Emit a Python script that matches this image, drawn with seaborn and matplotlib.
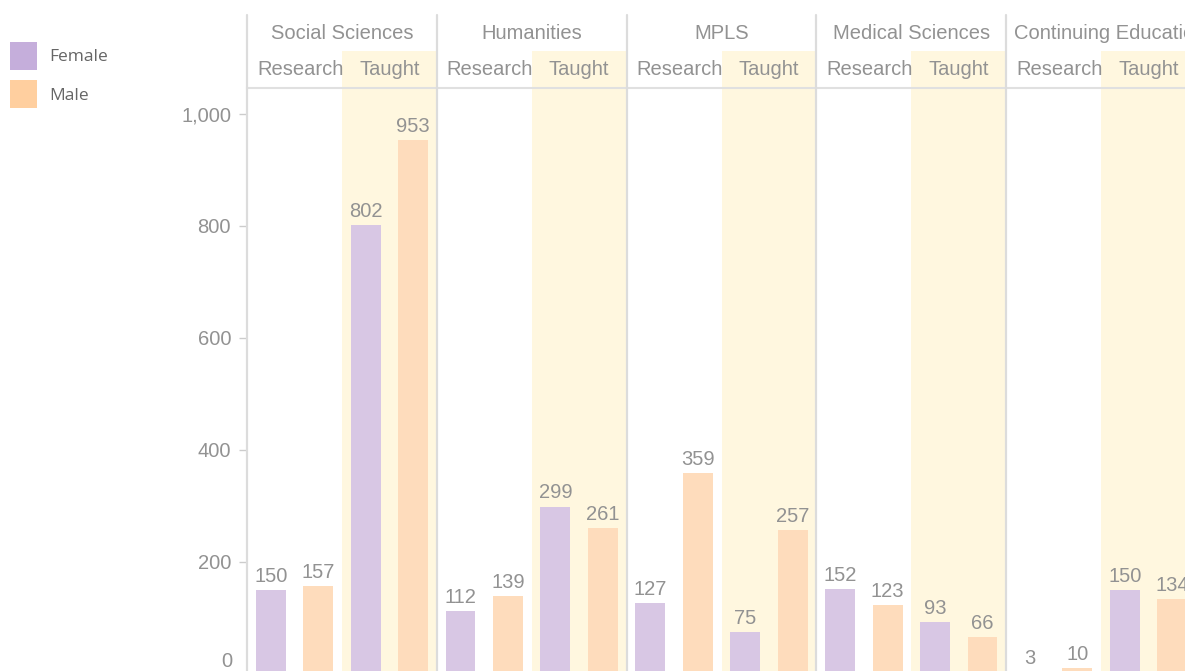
import pandas as pd
import matplotlib.pyplot as plt
import seaborn as sns
from matplotlib.patches import Patch


# данные
faculties = ["Social Sciences", "Humanities", "MPLS", "Medical Sciences", "Continuing Education"]
levels = ["Research", "Taught"]
genders = ["Female", "Male"]
female = [150, 802, 112, 299, 127, 75, 152, 93, 3, 150]
male = [157, 953, 139, 261, 359, 257, 123, 66, 10, 134]
y_ticks = [200, 400, 600, 800, 1000]

groups = [f"{f}|{lv}" for f in faculties for lv in levels]
df = pd.DataFrame({
    "group": groups * 2,
    "gender": ["Female"] * len(groups) + ["Male"] * len(groups),
    "count": female + male,
})

BAR_COLORS = ["#d8c7e4", "#fedcbc"]
LEGEND_COLORS = ["#c5aedb", "#ffcf9f"]
SHADE = "#fff7df"
SEP = "#dcdcdc"
TXT = "#929292"

sns.set_style("white")
plt.rcParams["font.family"] = ["Liberation Sans", "DejaVu Sans"]

W, H = 1185, 671
fig = plt.figure(figsize=(W / 100, H / 100), dpi=100)
ax = fig.add_axes([247 / W, 0, 938 / W, 583 / H])

# подсветка Taught
for i, g in enumerate(groups):
    if g.endswith("Taught"):
        ax.axvspan(i - 0.5, i + 0.5, ymin=0, ymax=1.0635, color=SHADE,
                   lw=0, zorder=0, clip_on=False)

sns.barplot(data=df, x="group", y="count", hue="gender", order=groups,
            hue_order=genders, palette=BAR_COLORS, saturation=1,
            width=1.0, gap=0.37, errorbar=None, legend=False, ax=ax,
            linewidth=0, zorder=2)

for cont in ax.containers:
    ax.bar_label(cont, padding=3, fontsize=14.5, color=TXT,
                 annotation_clip=False)

ax.set_xlim(-0.5, -0.5 + 938 / 94.9)
ax.set_ylim(5.4, 1046)
ax.set_yticks(y_ticks)
ax.set_yticklabels([f"{v:,}" for v in y_ticks])
ax.tick_params(axis="y", length=6, width=1, color="#cccccc", pad=5.5,
               labelsize=14.5, labelcolor=TXT, left=True)
ax.set_xticks([])
ax.set_xlabel("")
ax.set_ylabel("")
# подпись нуля (сама отметка ниже края)
ax.text(-15 / 938, 0.017, "0", transform=ax.transAxes, ha="right",
        va="center", fontsize=14.5, color=TXT)

for s in ["left", "right", "bottom"]:
    ax.spines[s].set_visible(False)
ax.spines["top"].set_color("#e0e0e0")
ax.spines["top"].set_linewidth(1.5)

# шапка
tr = ax.get_xaxis_transform()
for k in range(len(faculties)):
    ax.plot([2 * k - 0.5, 2 * k - 0.5], [0, 1.125], transform=tr, color=SEP,
            lw=1.6, clip_on=False, zorder=3)
for k, f in enumerate(faculties):
    if len(f) > 16:
        ax.text(2 * k - 0.5 + 0.085, 1.094, f, transform=tr, ha="left",
                va="center", fontsize=14.5, color=TXT)
    else:
        ax.text(2 * k + 0.5, 1.094, f, transform=tr, ha="center",
                va="center", fontsize=14.5, color=TXT)
for i, g in enumerate(groups):
    lv = g.split("|")[1]
    if lv == "Research":
        ax.text(i - 0.5 + 0.105, 1.032, lv, transform=tr, ha="left",
                va="center", fontsize=14.5, color=TXT)
    else:
        ax.text(i, 1.032, lv, transform=tr, ha="center",
                va="center", fontsize=14.5, color=TXT)

handles = [Patch(facecolor=c, edgecolor="none", label=g)
           for c, g in zip(LEGEND_COLORS, genders)]
fig.legend(handles=handles, loc="upper left",
           bbox_to_anchor=(10 / W, 1 - 42 / H), frameon=False,
           prop={"family": "Open Sans", "size": 12.5}, labelcolor="#666666",
           handlelength=1.55, handleheight=2.1, handletextpad=0.7,
           labelspacing=0.6, borderpad=0, borderaxespad=0)

fig.savefig("out.png", dpi=100)
